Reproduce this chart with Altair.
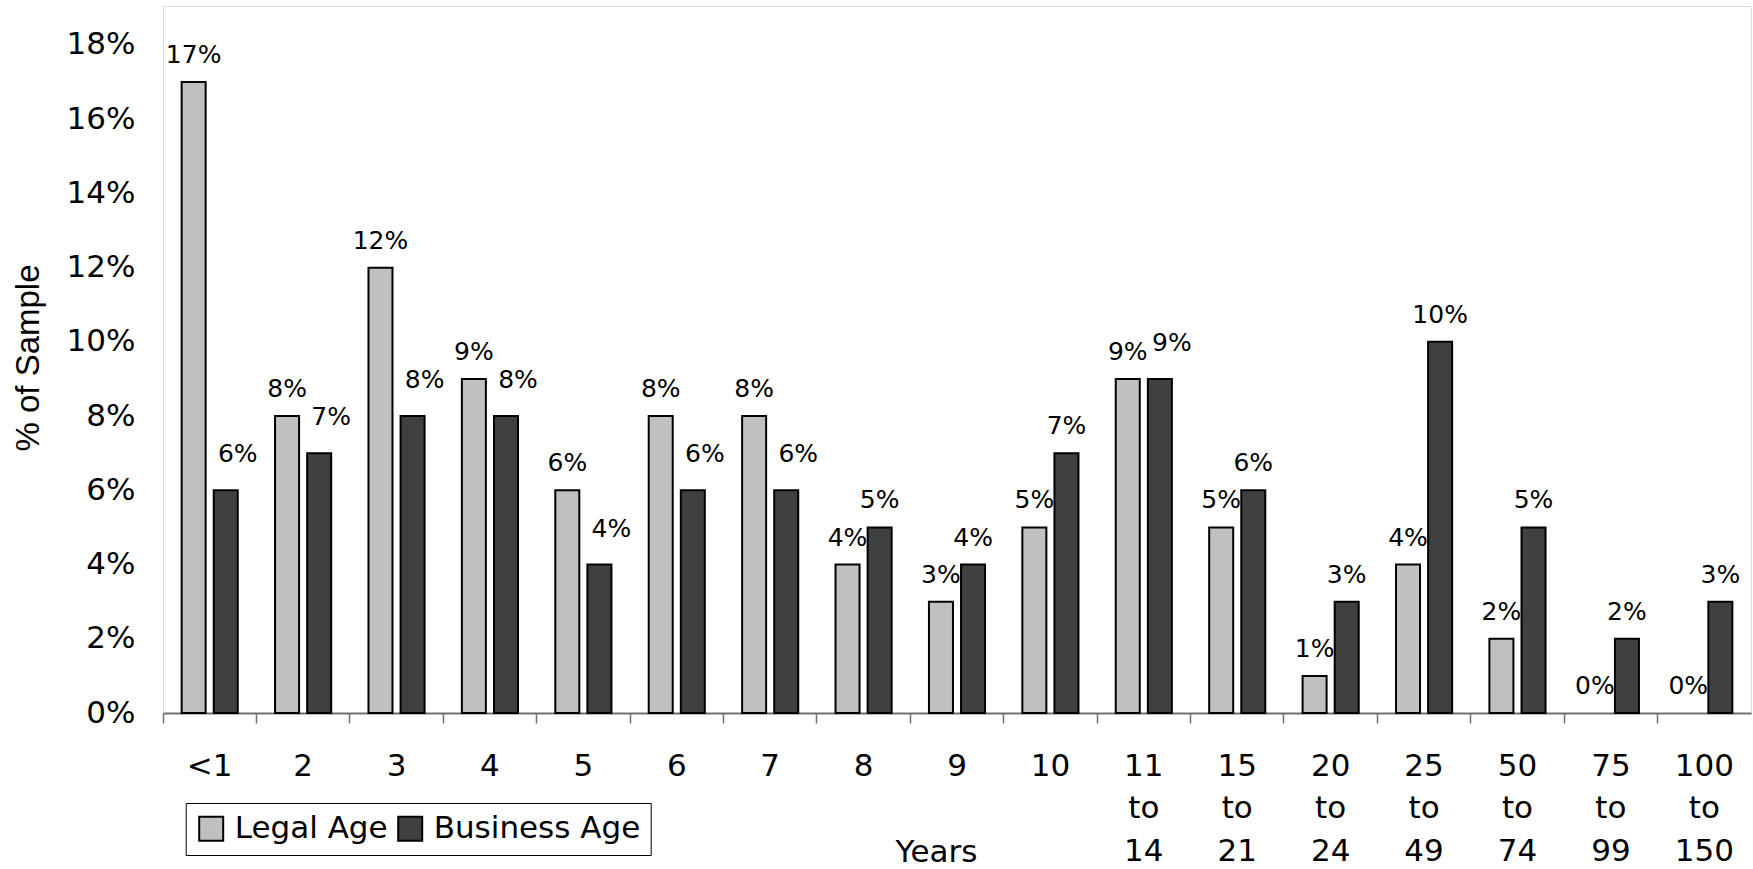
import altair as alt
import pandas as pd

categories = ["<1", "2", "3", "4", "5", "6", "7", "8", "9", "10",
              "11 to 14", "15 to 21", "20 to 24", "25 to 49", "50 to 74",
              "75 to 99", "100 to 150"]
legal_age = [17, 8, 12, 9, 6, 8, 8, 4, 3, 5, 9, 5, 1, 4, 2, 0, 0]
business_age = [6, 7, 8, 8, 4, 6, 6, 5, 4, 7, 9, 6, 3, 10, 5, 2, 3]
series = ["Legal Age", "Business Age"]
y_ticks = [0, 0.02, 0.04, 0.06, 0.08, 0.10, 0.12, 0.14, 0.16, 0.18]

rows = []
for c, la, ba in zip(categories, legal_age, business_age):
    rows.append({"category": c, "series": series[0], "value": la / 100, "raised": False})
    rows.append({"category": c, "series": series[1], "value": ba / 100, "raised": la >= ba})
df = pd.DataFrame(rows)

FONT = "DejaVu Sans"

x_enc = alt.X(
    "category:N",
    sort=categories,
    scale=alt.Scale(paddingInner=0, paddingOuter=0),
    axis=alt.Axis(
        title="Years",
        titleFont=FONT, titleFontSize=31, titleFontWeight="normal", titleColor="black",
        titleX=773, titleY=148, titleAlign="center", titleBaseline="alphabetic", titleAngle=0,
        labelExpr="split(datum.label, ' ')",
        labelFont=FONT, labelFontSize=31, labelColor="black", labelAngle=0,
        labelLineHeight=42.5, labelBaseline="top", labelAlign="center",
        labelPadding=28, labelOverlap=False, labelBound=False, labelFlush=False,
        bandPosition=0,
        tickSize=10, tickColor="#707070", tickWidth=1.5,
        domainColor="#707070", domainWidth=2,
        grid=False,
    ),
)
xoff = alt.XOffset("series:N", sort=series,
                   scale=alt.Scale(domain=series, paddingInner=0.252, paddingOuter=0.581))
y_enc = alt.Y(
    "value:Q",
    scale=alt.Scale(domain=[0, 0.1905], nice=False, zero=True),
    axis=alt.Axis(
        values=y_ticks, format=".0%",
        title="% of Sample",
        titleFont="Liberation Sans", titleFontSize=33, titleFontWeight="normal", titleColor="black",
        titleAngle=270, titleX=-124.5, titleY=351.5, titleAlign="center", titleBaseline="alphabetic",
        labelFont=FONT, labelFontSize=31, labelColor="black", labelPadding=28,
        ticks=False, tickSize=0, domain=False, grid=False,
    ),
)

bars = alt.Chart().mark_bar(stroke="black", strokeWidth=2).encode(
    x=x_enc,
    xOffset=xoff,
    y=y_enc,
    strokeOpacity=alt.condition("datum.value == 0", alt.value(0), alt.value(1)),
    color=alt.Color(
        "series:N",
        scale=alt.Scale(domain=series, range=["#C0C0C0", "#404040"]),
        legend=alt.Legend(
            orient="none", legendX=22.7, legendY=797, direction="horizontal", title=None,
            symbolType="square", symbolSize=576, symbolStrokeColor="black", symbolStrokeWidth=2,
            symbolOpacity=1,
            labelFont=FONT, labelFontSize=31, labelColor="black", labelOffset=8, labelLimit=0,
            columnPadding=6, padding=10, strokeColor="black", fillColor="white",
        ),
    ),
)

labels_plain = alt.Chart().transform_filter("!datum.raised").mark_text(
    font=FONT, fontSize=25, color="black", align="center", baseline="alphabetic", dy=-19
).encode(
    x=alt.X("category:N", sort=categories),
    xOffset=xoff,
    y=alt.Y("value:Q"),
    text=alt.Text("value:Q", format=".0%"),
)

labels_raised = alt.Chart().transform_filter("datum.raised").mark_text(
    font=FONT, fontSize=25, color="black", align="center", baseline="alphabetic", dx=12, dy=-28
).encode(
    x=alt.X("category:N", sort=categories),
    xOffset=xoff,
    y=alt.Y("value:Q"),
    text=alt.Text("value:Q", format=".0%"),
)

chart = alt.layer(bars, labels_plain, labels_raised, data=df).properties(
    width=1588, height=707,
    autosize=alt.AutoSizeParams(type="none"),
    padding={"left": 163, "top": 6, "right": 2, "bottom": 156},
).configure_view(stroke="#808080", strokeWidth=2).configure(background="white")

chart.save("out.html", embed_options={"renderer": "svg", "actions": False})
